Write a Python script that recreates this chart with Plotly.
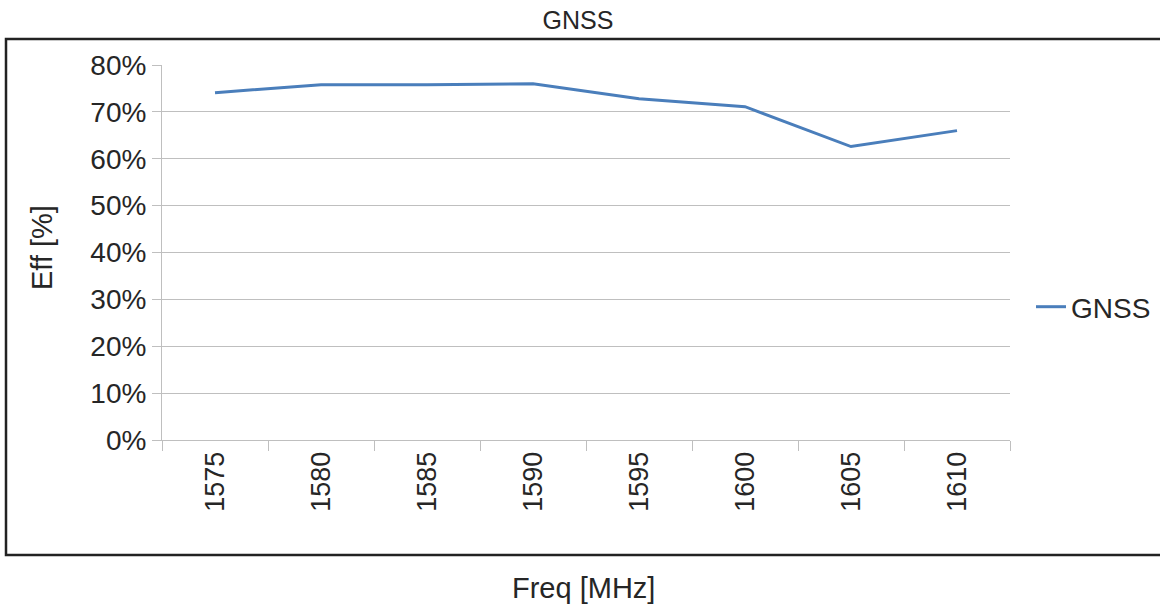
import plotly.graph_objects as go

freqs = ["1575", "1580", "1585", "1590", "1595", "1600", "1605", "1610"]
eff = [74.1, 75.8, 75.8, 76.0, 72.8, 71.1, 62.6, 66.0]
y_ticks = [0, 10, 20, 30, 40, 50, 60, 70, 80]
y_tick_labels = [f"{v}%" for v in y_ticks]

W, H = 1160, 607
L, R, T, B = 162, 1010, 65, 440
pw, ph = R - L, B - T

def px(x):
    return (x - L) / pw

def py(y):
    return (B - y) / ph

font = "Liberation Sans, Arial, sans-serif"
txt = "#262626"
grid = "#bfbfbf"

fig = go.Figure()
fig.add_trace(go.Scatter(
    x=freqs, y=eff, mode="lines", name="GNSS",
    line=dict(color="#4a7ebb", width=3),
))

fig.update_layout(
    width=W, height=H,
    margin=dict(l=L, r=W - R, t=T, b=H - B, autoexpand=False),
    paper_bgcolor="white", plot_bgcolor="white",
    font=dict(family=font, size=28, color=txt),
    showlegend=True,
    legend=dict(x=1031 / W, y=(H - 307) / H, xref="container", yref="container",
                xanchor="left", yanchor="middle",
                font=dict(size=28, color=txt), itemwidth=30,
                bgcolor="rgba(0,0,0,0)", tracegroupgap=0),
    title=dict(text="GNSS", x=578 / W, xanchor="center",
               y=(H - 20) / H, yanchor="middle", yref="container",
               font=dict(size=25, color=txt, family=font)),
    xaxis=dict(
        type="category", range=[-0.5, 7.5], tickson="boundaries",
        ticks="outside", ticklen=10, tickcolor=grid, tickwidth=1,
        showgrid=False, showline=True, linecolor=grid, linewidth=1,
        tickangle=-90, tickfont=dict(size=27, color=txt),
        zeroline=False, automargin=False,
    ),
    yaxis=dict(
        range=[0, 80], tickvals=y_ticks, ticktext=y_tick_labels,
        ticks="outside", ticklen=9, tickcolor=grid, tickwidth=1,
        showgrid=True, gridcolor=grid, gridwidth=1,
        showline=True, linecolor=grid, linewidth=1,
        zeroline=False, tickfont=dict(size=28, color=txt), automargin=False,
    ),
    shapes=[dict(type="rect", xref="paper", yref="paper",
                 x0=px(6), x1=px(1175), y0=py(555), y1=py(39),
                 line=dict(color="#222222", width=2.5), layer="below")],
    annotations=[
        dict(text="Eff [%]", xref="paper", yref="paper", x=px(42), y=py(248),
             xanchor="center", yanchor="middle", textangle=-90,
             showarrow=False, font=dict(size=29, color=txt)),
        dict(text="Freq [MHz]", xref="paper", yref="paper", x=px(583), y=py(588),
             xanchor="center", yanchor="middle",
             showarrow=False, font=dict(size=29, color=txt)),
    ],
)

fig.write_html("out.html", config={"displayModeBar": False},
               post_script="document.body.style.margin='0';document.body.style.padding='0';")
